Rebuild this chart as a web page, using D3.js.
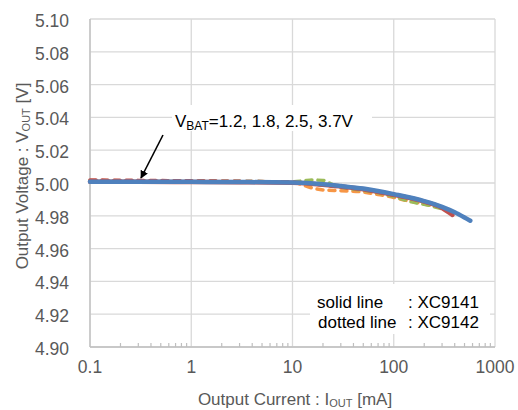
<!doctype html>
<html lang="en">
<head>
<meta charset="utf-8">
<title>Output Voltage vs Output Current</title>
<style>
  body { margin: 0; background: #fff; }
  text { font-family: "Liberation Sans", Arial, sans-serif; }
  .tick-label { fill: #595959; font-size: 17.5px; }
  .axis-title { fill: #595959; font-size: 17px; }
  .grid { stroke: #d9d9d9; stroke-width: 1.3; }
  .note { fill: #000; font-size: 17px; }
</style>
</head>
<body>
<script src="https://cdn.jsdelivr.net/npm/d3@7"></script>
<script>
  // data (I in mA, V in volts)
  const xTicks = [0.1, 1, 10, 100, 1000];
  const yTicks = [4.90, 4.92, 4.94, 4.96, 4.98, 5.00, 5.02, 5.04, 5.06, 5.08, 5.10];

  const dashedOrangeI = [0.1, 0.3, 1, 3, 10, 13, 16, 20, 30, 50, 70, 100, 130, 200, 250];
  const dashedOrangeV = [5.0015, 5.0014, 5.0012, 5.0010, 5.0005, 4.9985, 4.9968, 4.9958, 4.9953, 4.9945, 4.9930, 4.9912, 4.9895, 4.9872, 4.9860];

  const dashedGreenI = [0.1, 0.3, 1, 3, 10, 13, 16, 20, 25, 30, 50, 100, 150, 200, 300];
  const dashedGreenV = [5.0014, 5.0013, 5.0011, 5.0009, 5.0008, 5.0014, 5.0018, 5.0016, 4.9990, 4.9975, 4.9955, 4.9918, 4.9885, 4.9870, 4.9842];

  const dashedRedI = [0.1, 0.3, 1, 3, 10, 20, 30, 50, 100, 200, 300, 400];
  const dashedRedV = [5.0018, 5.0016, 5.0013, 5.0010, 5.0004, 4.9988, 4.9975, 4.9960, 4.9926, 4.9886, 4.9850, 4.9815];

  const solidRedI = [0.1, 0.3, 1, 3, 10, 20, 30, 50, 100, 200, 300, 380];
  const solidRedV = [5.0007, 5.0007, 5.0006, 5.0005, 5.0002, 4.9990, 4.9978, 4.9962, 4.9928, 4.9886, 4.9848, 4.9805];

  const solidBlueI = [0.1, 0.3, 1, 3, 10, 20, 30, 50, 100, 200, 300, 400, 500, 570];
  const solidBlueV = [5.0008, 5.0008, 5.0007, 5.0006, 5.0003, 4.9993, 4.9982, 4.9966, 4.9932, 4.9890, 4.9855, 4.9822, 4.9790, 4.9770];

  const series = [
    { i: dashedOrangeI, v: dashedOrangeV, color: '#F79646', dashed: true },
    { i: dashedGreenI, v: dashedGreenV, color: '#9BBB59', dashed: true },
    { i: dashedRedI, v: dashedRedV, color: '#C0504D', dashed: true },
    { i: solidRedI, v: solidRedV, color: '#C0504D', dashed: false },
    { i: solidBlueI, v: solidBlueV, color: '#4F81BD', dashed: false }
  ];

  const width = 518, height = 410;
  const margin = { top: 19, right: 23, bottom: 63, left: 90 };

  const svg = d3.select('body').append('svg')
    .attr('width', width)
    .attr('height', height);

  const x = d3.scaleLog().domain([0.1, 1000]).range([margin.left, width - margin.right]);
  const y = d3.scaleLinear().domain([4.90, 5.10]).range([height - margin.bottom, margin.top]);

  // grid
  svg.append('g').selectAll('line.h').data(yTicks).join('line')
    .attr('class', 'grid')
    .attr('x1', margin.left).attr('x2', width - margin.right)
    .attr('y1', d => y(d)).attr('y2', d => y(d));
  svg.append('g').selectAll('line.v').data(xTicks).join('line')
    .attr('class', 'grid')
    .attr('x1', d => x(d)).attr('x2', d => x(d))
    .attr('y1', margin.top).attr('y2', height - margin.bottom);

  // axis lines + minor ticks on the bottom axis
  svg.append('line')
    .attr('x1', margin.left).attr('x2', margin.left)
    .attr('y1', margin.top).attr('y2', height - margin.bottom)
    .attr('stroke', '#bfbfbf').attr('stroke-width', 1.3);
  svg.append('line')
    .attr('x1', margin.left).attr('x2', width - margin.right)
    .attr('y1', height - margin.bottom).attr('y2', height - margin.bottom)
    .attr('stroke', '#bfbfbf').attr('stroke-width', 1.3);

  const minor = [];
  for (let dec = 0.1; dec < 1000; dec *= 10) {
    for (let k = 2; k <= 9; k++) minor.push(dec * k);
  }
  svg.append('g').selectAll('line').data(minor).join('line')
    .attr('x1', d => x(d)).attr('x2', d => x(d))
    .attr('y1', height - margin.bottom).attr('y2', height - margin.bottom - 4)
    .attr('stroke', '#bfbfbf').attr('stroke-width', 1.2);

  // tick labels
  svg.append('g').selectAll('text').data(yTicks).join('text')
    .attr('class', 'tick-label')
    .attr('x', margin.left - 21)
    .attr('y', d => y(d) + 8)
    .attr('text-anchor', 'end')
    .text(d => d.toFixed(2));
  svg.append('g').selectAll('text').data(xTicks).join('text')
    .attr('class', 'tick-label')
    .attr('x', d => x(d))
    .attr('y', height - margin.bottom + 26)
    .attr('text-anchor', 'middle')
    .text(d => d);

  // axis titles
  const xt = svg.append('text')
    .attr('class', 'axis-title')
    .attr('x', 295).attr('y', 405)
    .attr('text-anchor', 'middle');
  xt.append('tspan').text('Output Current : I');
  xt.append('tspan').attr('font-size', 11).attr('dy', 2).text('OUT');
  xt.append('tspan').attr('dy', -2).text('  [mA]');

  const yt = svg.append('text')
    .attr('class', 'axis-title')
    .attr('transform', 'translate(28,176) rotate(-90)')
    .attr('text-anchor', 'middle');
  yt.append('tspan').text('Output Voltage : V');
  yt.append('tspan').attr('font-size', 11).attr('dy', 2).text('OUT');
  yt.append('tspan').attr('dy', -2).text(' [V]');

  // curves
  const line = d3.line()
    .x(d => x(d[0]))
    .y(d => y(d[1]))
    .curve(d3.curveMonotoneX);

  svg.append('g').selectAll('path').data(series).join('path')
    .attr('d', s => line(s.i.map((c, k) => [c, s.v[k]])))
    .attr('fill', 'none')
    .attr('stroke', s => s.color)
    .attr('stroke-width', s => s.dashed ? 3.5 : 4.5)
    .attr('stroke-linecap', 'round')
    .attr('stroke-dasharray', s => s.dashed ? '6,6' : null);

  // V_BAT annotation
  svg.append('rect')
    .attr('x', 172).attr('y', 105).attr('width', 200).attr('height', 26)
    .attr('fill', '#fff');
  const note = svg.append('text')
    .attr('class', 'note')
    .attr('x', 175).attr('y', 127);
  note.append('tspan').text('V');
  note.append('tspan').attr('font-size', 12).attr('dy', 3).text('BAT');
  note.append('tspan').attr('dy', -3).text('=1.2, 1.8, 2.5, 3.7V');

  svg.append('defs').append('marker')
    .attr('id', 'arrow')
    .attr('viewBox', '0 0 10 10')
    .attr('refX', 9).attr('refY', 5)
    .attr('markerWidth', 5).attr('markerHeight', 5)
    .attr('orient', 'auto')
    .append('path').attr('d', 'M0,0L10,5L0,10z').attr('fill', '#000');
  svg.append('line')
    .attr('x1', 163).attr('y1', 135)
    .attr('x2', 141).attr('y2', 178)
    .attr('stroke', '#000').attr('stroke-width', 1.6)
    .attr('marker-end', 'url(#arrow)');

  // product legend
  svg.append('rect')
    .attr('x', 310).attr('y', 284).attr('width', 180).attr('height', 50)
    .attr('fill', '#fff');
  svg.append('text').attr('class', 'note').attr('x', 317).attr('y', 308).text('solid line');
  svg.append('text').attr('class', 'note').attr('x', 408).attr('y', 308).text(': XC9141');
  svg.append('text').attr('class', 'note').attr('x', 318).attr('y', 328).text('dotted line');
  svg.append('text').attr('class', 'note').attr('x', 408).attr('y', 328).text(': XC9142');
</script>
</body>
</html>
